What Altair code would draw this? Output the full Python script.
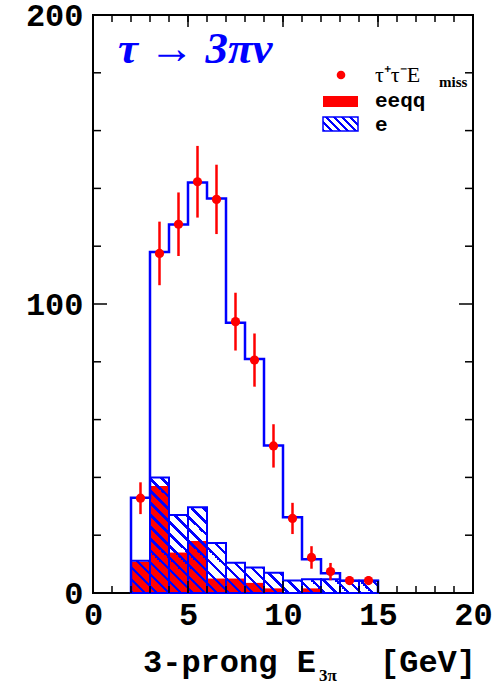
import altair as alt
import pandas as pd
import numpy as np

# ---------------- data ----------------
bin_lo = [2, 3, 4, 5, 6, 7, 8, 9, 10, 11, 12, 13, 14]
bin_hi = [3, 4, 5, 6, 7, 8, 9, 10, 11, 12, 13, 14, 15]
mc_total = [33, 118, 127.5, 142, 136.5, 93.5, 81, 51, 26.2, 11.7, 6.8, 4.2, 4.2]
bkg_eeqq = [10.8, 37, 14, 18, 5, 5, 3.5, 1.6, 0, 1.6, 0, 0, 0]
bkg_total = [11.2, 40, 27, 29.7, 17.3, 10.5, 8.8, 7.0, 4.3, 4.8, 4.8, 4.2, 4.2]
data_x = [2.5, 3.5, 4.5, 5.5, 6.5, 7.5, 8.5, 9.5, 10.5, 11.5, 12.5, 13.5, 14.5]
data_y = [32.8, 117.5, 127.6, 142.3, 136.2, 93.9, 80.6, 50.9, 25.8, 12.3, 7.4, 4.3, 4.3]
data_err = [5.5, 11, 11, 12.4, 12, 10, 9.2, 7.5, 5.4, 3.9, 3.0, 1.5, 1.5]

x_minor = list(range(1, 20))
x_major = [5, 10, 15]
y_minor = [20, 40, 60, 80, 120, 140, 160, 180]
y_major = [100]
x_labels = [0, 5, 10, 15, 20]
y_labels = [0, 100, 200]

# ---------------- styling ----------------
W, H = 380, 578
BLUE = "#0000ff"
RED = "#ff0000"
MONO = "Liberation Mono"
SERIF = "Liberation Serif"

xs = alt.Scale(domain=[0, 20], nice=False, zero=False)
ys = alt.Scale(domain=[0, 200], nice=False, zero=False)
xaxis = alt.Axis(values=x_labels, ticks=False, domain=False, grid=False,
                 labelFont=MONO, labelFontSize=32, labelFontWeight="bold",
                 labelColor="black", labelPadding=6, labelFlush=False,
                 labelOverlap=False, format="d", title=None)
yaxis = alt.Axis(values=y_labels, ticks=False, domain=False, grid=False,
                 labelFont=MONO, labelFontSize=32, labelFontWeight="bold",
                 labelColor="black", labelPadding=10, labelOverlap=False,
                 format="d", title=None)


def X(f):
    return alt.X(f, type="quantitative", scale=xs, axis=xaxis)


def Y(f):
    return alt.Y(f, type="quantitative", scale=ys, axis=yaxis)


def hatch(w, h, period=12.0, lw=3.5):
    L = w + h
    clear = "rgba(255,255,255,0)"
    stops = []
    k = 0
    while k * period < L:
        a = k * period / L
        b = min((k * period + lw) / L, 1.0)
        c = min((k + 1) * period / L, 1.0)
        stops += [(a, BLUE), (b, BLUE), (b, clear), (c, clear)]
        k += 1
    gx = w * (w + h) / (w * w + h * h)
    gy = -h * (w + h) / (w * w + h * h)
    return alt.LinearGradient(
        gradient="linear",
        stops=[alt.GradientStop(offset=float(o), color=col) for o, col in stops],
        x1=0, y1=1, x2=float(gx), y2=float(1 + gy))


# ---------------- tables ----------------
bins = pd.DataFrame({"lo": bin_lo, "hi": bin_hi, "eeqq": bkg_eeqq,
                     "bkg": bkg_total, "zero": 0})
area_df = pd.DataFrame({"x": bin_lo + [bin_hi[-1]],
                        "top": bkg_total + [bkg_total[-1]], "zero": 0})
outline_x, outline_y = [bin_lo[0]], [0]
for lo, hi, v in zip(bin_lo, bin_hi, mc_total):
    outline_x += [lo, hi]
    outline_y += [v, v]
outline_x.append(bin_hi[-1])
outline_y.append(0)
outline = pd.DataFrame({"x": outline_x, "y": outline_y,
                        "o": list(range(len(outline_x)))})
pts = pd.DataFrame({"x": data_x, "y": data_y,
                    "lo": [a - b for a, b in zip(data_y, data_err)],
                    "hi": [a + b for a, b in zip(data_y, data_err)]})

# ---------------- layers ----------------
red = alt.Chart(bins).mark_rect(fill=RED, stroke=None).encode(
    x=X("lo"), x2="hi", y=Y("zero"), y2="eeqq")

px_w = (bin_hi[-1] - bin_lo[0]) * W / 20.0
px_h = max(bkg_total) * H / 200.0
hatched = alt.Chart(area_df).mark_area(
    interpolate="step-after", fill=hatch(px_w, px_h), stroke=None).encode(
    x=X("x"), y=Y("top"), y2="zero")

boxes = alt.Chart(bins).mark_rect(fillOpacity=0, stroke=BLUE, strokeWidth=2).encode(
    x=X("lo"), x2="hi", y=Y("zero"), y2="bkg")

total = alt.Chart(outline).mark_line(color=BLUE, strokeWidth=2.5).encode(
    x=X("x"), y=Y("y"), order="o:Q")

err = alt.Chart(pts).mark_rule(color=RED, strokeWidth=2.5).encode(
    x=X("x"), y=Y("lo"), y2="hi")
dots = alt.Chart(pts).mark_circle(color=RED, size=85, opacity=1).encode(
    x=X("x"), y=Y("y"))


# ticks (inward): centred on the frame, outer half clipped away
def xticks(vals, ln):
    d = pd.DataFrame({"v": vals})
    out = []
    for yv in (0, H):
        out.append(alt.Chart(d).mark_tick(
            color="black", thickness=1.5, size=2 * ln, clip=True,
            orient="vertical", opacity=1).encode(x=X("v"), y=alt.value(yv)))
    return out


def yticks(vals, ln):
    d = pd.DataFrame({"v": vals})
    out = []
    for xv in (0, W):
        out.append(alt.Chart(d).mark_tick(
            color="black", thickness=1.5, size=2 * ln, clip=True,
            orient="horizontal", opacity=1).encode(y=Y("v"), x=alt.value(xv)))
    return out


ticks = xticks(x_minor, 7) + xticks(x_major, 12) + yticks(y_minor, 8) + yticks(y_major, 14)

one = pd.DataFrame({"a": [0]})


def label(text, x, y, size, font, color="black", weight="normal", style="normal",
          baseline="alphabetic", clip=False):
    return alt.Chart(one).mark_text(
        text=text, font=font, fontSize=size, fontWeight=weight, fontStyle=style,
        color=color, align="left", baseline=baseline, clip=clip).encode(
        x=alt.value(x), y=alt.value(y))


title = label("τ → 3πν", 25, 48, 45, SERIF, color=BLUE, weight="bold", style="italic")

leg_dot = alt.Chart(one).mark_circle(color=RED, size=75, opacity=1).encode(
    x=alt.value(248), y=alt.value(60))
leg_t1 = label("τ⁺τ⁻E", 282, 67, 22, SERIF)
leg_t1s = label("miss", 346, 72, 15, SERIF, weight="bold", clip=True)
leg_red = alt.Chart(one).mark_rect(fill=RED).encode(
    x=alt.value(230), x2=alt.value(265), y=alt.value(81), y2=alt.value(92))
leg_t2 = label("eeqq", 282, 92, 21, MONO, weight="bold")
leg_hatch = alt.Chart(one).mark_rect(fill=hatch(35, 14, period=8, lw=2.5), stroke=BLUE,
                                     strokeWidth=1.5).encode(
    x=alt.value(230), x2=alt.value(265), y=alt.value(102), y2=alt.value(116))
leg_t3 = label("e", 282, 116, 21, MONO, weight="bold")

xt1 = label("3-prong E", 50, 657, 32, MONO, weight="bold")
xt2 = label("3π", 226, 666, 17, SERIF, weight="bold")
xt3 = label("[GeV]", 287, 657, 32, MONO, weight="bold")

chart = alt.layer(
    red, hatched, boxes, total, err, dots, *ticks,
    title, leg_dot, leg_t1, leg_t1s, leg_red, leg_t2, leg_hatch, leg_t3,
    xt1, xt2, xt3,
).properties(
    width=W, height=H,
    autosize=alt.AutoSizeParams(type="none"),
    padding={"left": 93, "top": 15, "right": 30, "bottom": 94},
    background="white",
).configure_view(stroke="black", strokeWidth=2)

chart.save("out.html", embed_options={"renderer": "svg", "actions": False})
